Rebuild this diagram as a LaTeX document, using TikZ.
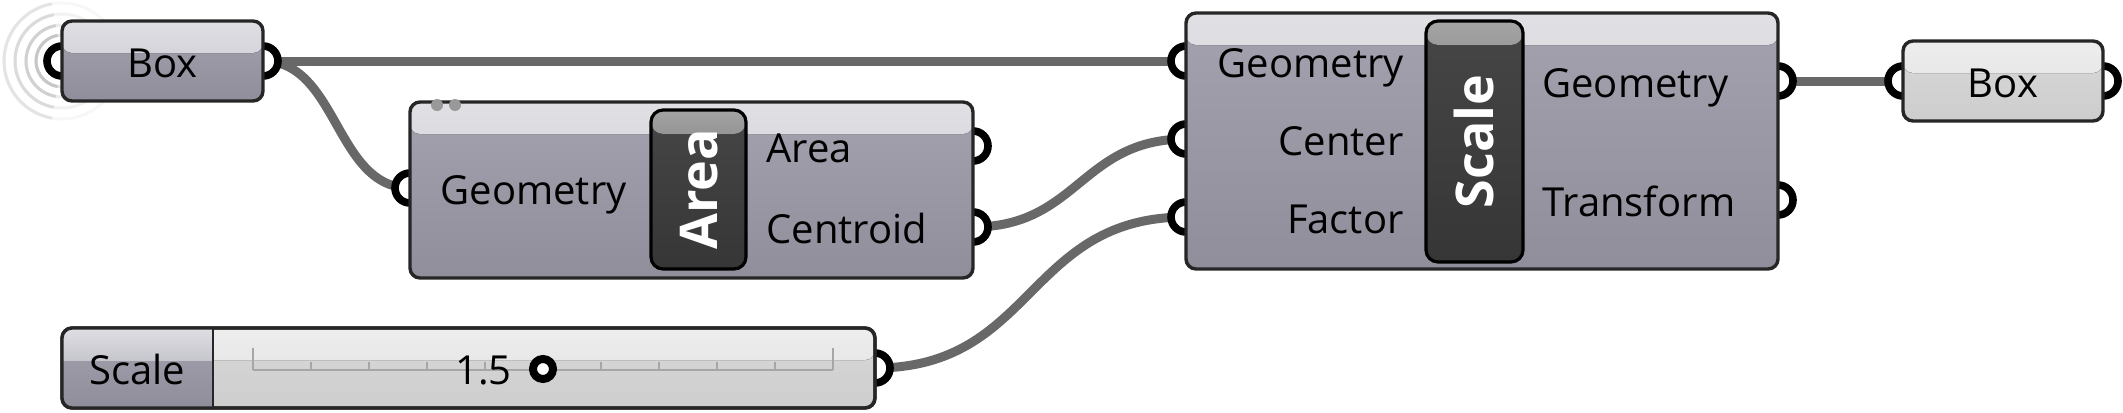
\documentclass[tikz,border=0pt]{standalone}
\usepackage{fontspec}
\setmainfont{Open Sans}
\usetikzlibrary{calc}
\definecolor{wirec}{HTML}{686868}
\definecolor{edgec}{HTML}{262626}
\definecolor{bandA}{HTML}{E0E0E5}
\definecolor{bandB}{HTML}{C6C6CD}
\definecolor{bodyA}{HTML}{A3A2AE}
\definecolor{bodyB}{HTML}{8F8E9A}
\definecolor{lbandA}{HTML}{EEEEEE}
\definecolor{lbandB}{HTML}{E0E0E0}
\definecolor{lbodyA}{HTML}{D9D9D9}
\definecolor{lbodyB}{HTML}{CDCDCD}
\definecolor{darkA}{HTML}{464646}
\definecolor{darkB}{HTML}{363636}
\definecolor{ringc}{HTML}{BDBDBD}
\begin{document}
\begin{tikzpicture}[x=0.5pt,y=-0.5pt,
  wire/.style={draw=wirec, line width=4.5pt},
  grip/.style={draw=black, line width=3.8pt, fill=white},
  ghcomp/.style={draw=edgec, line width=1.7pt, rounded corners=5pt, inner sep=0pt,
    top color=bodyA, bottom color=bodyB,
    path picture={\fill[top color=bandA, bottom color=bandB]
      ([yshift=2pt]path picture bounding box.north west) rectangle
      ([yshift=-#1]path picture bounding box.north east);}},
  ghcomp/.default=16pt,
  ghlight/.style={draw=edgec, line width=1.7pt, rounded corners=5pt, inner sep=0pt,
    top color=lbodyA, bottom color=lbodyB,
    path picture={\fill[top color=lbandA, bottom color=lbandB]
      ([yshift=2pt]path picture bounding box.north west) rectangle
      ([yshift=-16pt]path picture bounding box.north east);}},
  ghname/.style={draw=black, line width=1.6pt, rounded corners=6pt, inner sep=0pt,
    top color=darkA, bottom color=darkB,
    path picture={\fill[top color=gray!70, bottom color=darkA]
      ([yshift=2pt]path picture bounding box.north west) rectangle
      ([yshift=-12pt]path picture bounding box.north east);}},
  lab/.style={inner sep=0pt, text height=14.3pt, text depth=0pt, yshift=-1.2pt,
    font=\fontsize{20}{24}\selectfont},
  vlab/.style={inner sep=0pt, text height=18.5pt, text depth=0pt, rotate=90, text=white,
    font=\fontsize{26}{30}\selectfont\bfseries},
  tick/.style={draw=black!35, line width=1.2pt}
]
\useasboundingbox (0,0) rectangle (2123,412);

% grip coordinates
\coordinate (b1in) at (62,61);
\coordinate (b1out) at (263,61);
\coordinate (aG) at (410,188);
\coordinate (aA) at (973,146);
\coordinate (aC) at (973,227);
\coordinate (sG) at (1186,61);
\coordinate (sC) at (1186,139);
\coordinate (sF) at (1186,217);
\coordinate (sOG) at (1778,81);
\coordinate (sOT) at (1778,200);
\coordinate (b2in) at (1903,81);
\coordinate (b2out) at (2103,81);
\coordinate (slout) at (875,368);

% signal rings
\foreach \r/\c in {58/12,47/20,36/30,26/40}
  \draw[ringc!\c!white, line width=1.5pt] (b1in) circle (\r);
\foreach \r/\c in {58/40,47/55,36/70,26/85}
  \draw[ringc!\c!white, line width=1.5pt] (b1in) ++(100:\r) arc (100:260:\r);

% wires
\draw[wire] (b1out) -- (sG);
\draw[wire] (b1out) .. controls +(75,0) and +(-75,0) .. (aG);
\draw[wire] (aC) .. controls +(105,0) and +(-105,0) .. (sC);
\draw[wire] (slout) .. controls +(160,0) and +(-160,0) .. (sF);
\draw[wire] (sOG) -- (b2in);

% grips
\foreach \p in {b1in,b1out,aG,aA,aC,sG,sC,sF,sOG,sOT,b2in,b2out,slout}
  \draw[grip] (\p) circle (15);

% Box 1
\node[ghcomp, minimum width=100.5pt, minimum height=40pt] (box1) at (162.5,61) {};
\node[lab] (box1t) at (box1.center) {Box};

% Area component
\node[ghcomp, minimum width=281.5pt, minimum height=88pt] (area) at (691.5,190) {};
\fill[gray!80] (437,105) circle (6) (455,105) circle (6);
\node[ghname, minimum width=47.5pt, minimum height=79.5pt] (areaN) at (698.5,189.5) {};
\node[vlab] (areaNt) at (areaN.center) {Area};
\node[lab, anchor=east] (areaInG) at (627,188) {Geometry};
\node[lab, anchor=west] (areaOutA) at (766,146) {Area};
\node[lab, anchor=west] (areaOutC) at (766,227) {Centroid};

% Scale component
\node[ghcomp, minimum width=296pt, minimum height=128pt] (scale) at (1482,141) {};
\node[ghname, minimum width=48.5pt, minimum height=120.5pt] (scaleN) at (1474.5,141.5) {};
\node[vlab] (scaleNt) at (scaleN.center) {Scale};
\node[lab, anchor=east] (scInG) at (1404,61) {Geometry};
\node[lab, anchor=east] (scInC) at (1404,139) {Center};
\node[lab, anchor=east] (scInF) at (1404,217) {Factor};
\node[lab, anchor=west] (scOutG) at (1542,81) {Geometry};
\node[lab, anchor=west] (scOutT) at (1542,200) {Transform};

% Box 2
\node[ghlight, minimum width=100pt, minimum height=40pt] (box2) at (2003,81) {};
\node[lab] (box2t) at (box2.center) {Box};

% Slider
\node[ghlight, minimum width=406.5pt, minimum height=40pt] (slider) at (468.5,368) {};
\begin{scope}
  \clip[rounded corners=5pt] (62,328) rectangle (875,408);
  \fill[top color=bodyA, bottom color=bodyB] (62,328) rectangle (213,408);
  \fill[top color=bandA, bottom color=bandB] (62,326) rectangle (213,360);
\end{scope}
\draw[draw=edgec, line width=1.7pt, rounded corners=5pt] (62,328) rectangle (875,408);
\draw[draw=edgec, line width=1.4pt] (213,328) -- (213,408);
\node[lab] (sllab) at (137.5,368) {Scale};
\draw[tick] (253,370) -- (833,370);
\draw[tick] (253,348) -- (253,370);
\draw[tick] (833,348) -- (833,370);
\foreach \i in {1,...,9}
  \draw[tick] ({253+58*\i},362) -- ({253+58*\i},370);
\node[lab, anchor=east] (slval) at (512,368) {1.5};
\draw[draw=black, line width=4pt, fill=white] (543,369) circle (10);
\end{tikzpicture}
\end{document}
